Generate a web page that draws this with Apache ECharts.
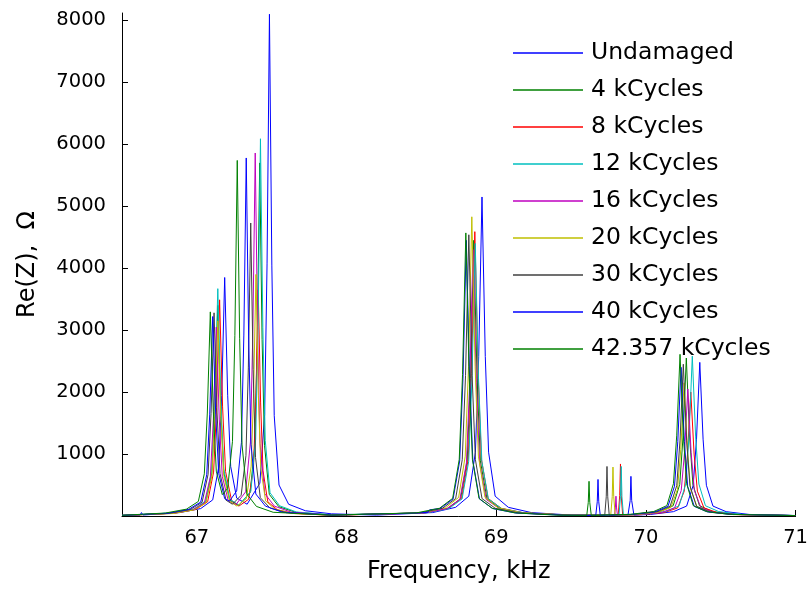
<!DOCTYPE html>
<html>
<head>
<meta charset="utf-8">
<script src="https://cdn.jsdelivr.net/npm/echarts@6/dist/echarts.min.js"></script>
<style>
  html, body { margin: 0; padding: 0; background: #fff; }
  #chart { width: 811px; height: 589px; }
</style>
</head>
<body>
<div id="chart"></div>
<script>
// tick labels
var xTicks = [67, 68, 69, 70, 71];
var yTicks = [1000, 2000, 3000, 4000, 5000, 6000, 7000, 8000];

var seriesNames = ['Undamaged', '4 kCycles', '8 kCycles', '12 kCycles', '16 kCycles',
  '20 kCycles', '30 kCycles', '40 kCycles', '42.357 kCycles'];
var seriesColors = ['#0000ff', '#008000', '#ff0000', '#00bfbf', '#bf00bf',
  '#bfbf00', '#404040', '#0000ff', '#008000'];

// Re(Z) vs frequency (kHz): [freq, ohm]
var undamaged = [
  [66.5, 10], [66.62, 14], [66.63, 55], [66.64, 16], [66.886, 55], [67.026, 120], [67.106, 260],
  [67.146, 790], [67.166, 1945], [67.186, 3850], [67.206, 1950], [67.226, 800], [67.266, 290],
  [67.336, 190], [67.421, 530], [67.453, 1640], [67.469, 4070], [67.485, 8100], [67.501, 4050],
  [67.517, 1620], [67.549, 500], [67.613, 190], [67.725, 85], [67.9, 35], [68.2, 15],
  [68.575, 55], [68.729, 140], [68.817, 320], [68.861, 1030], [68.883, 2575], [68.905, 5150],
  [68.927, 2575], [68.949, 1030], [68.993, 320], [69.081, 140], [69.235, 55], [69.5, 15],
  [69.88, 12], [69.895, 250], [69.9, 640], [69.905, 250], [69.92, 14],
  [70.03, 25], [70.184, 70], [70.272, 160], [70.316, 496], [70.338, 1240], [70.36, 2480],
  [70.382, 1240], [70.404, 496], [70.448, 160], [70.536, 70], [70.69, 25], [71, 8]
];
var kc4 = [
  [66.5, 10], [66.84, 45], [66.98, 105], [67.06, 230], [67.1, 694], [67.12, 1716], [67.14, 3400],
  [67.16, 1722], [67.18, 705], [67.22, 255], [67.28, 170], [67.356, 380], [67.388, 1162],
  [67.404, 2870], [67.42, 5700], [67.436, 2850], [67.452, 1140], [67.484, 350], [67.548, 150],
  [67.66, 60], [67.9, 18],
  [68.52, 50], [68.674, 120], [68.762, 280], [68.806, 890], [68.828, 2225], [68.85, 4450],
  [68.872, 2225], [68.894, 890], [68.938, 280], [69.026, 120], [69.18, 50], [69.5, 12],
  [69.94, 25], [70.094, 70], [70.182, 165], [70.226, 510], [70.248, 1275], [70.27, 2550],
  [70.292, 1275], [70.314, 510], [70.358, 165], [70.446, 70], [70.6, 25], [71, 7]
];
var kc8 = [
  [66.5, 9], [66.852, 45], [66.992, 105], [67.072, 230], [67.112, 708], [67.132, 1756],
  [67.152, 3490], [67.172, 1761], [67.192, 717], [67.232, 250], [67.281, 160], [67.346, 270],
  [67.378, 757], [67.394, 1850], [67.41, 3650], [67.426, 1825], [67.442, 730], [67.474, 230],
  [67.538, 100], [67.65, 40], [67.9, 12],
  [68.527, 50], [68.681, 125], [68.769, 285], [68.813, 918], [68.835, 2295], [68.857, 4590],
  [68.879, 2295], [68.901, 918], [68.945, 285], [69.033, 125], [69.187, 50], [69.5, 12],
  [69.815, 12], [69.825, 330], [69.83, 840], [69.835, 330], [69.845, 12],
  [69.97, 22], [70.124, 56], [70.212, 130], [70.256, 400], [70.278, 1000], [70.3, 2000],
  [70.322, 1000], [70.344, 400], [70.388, 130], [70.476, 56], [70.63, 22], [71, 6]
];
var kc12 = [
  [66.5, 10], [66.84, 50], [66.98, 112], [67.06, 245], [67.1, 749], [67.12, 1852], [67.14, 3670],
  [67.16, 1857], [67.18, 760], [67.22, 270], [67.283, 175], [67.361, 400], [67.393, 1241],
  [67.409, 3066], [67.425, 6090], [67.441, 3045], [67.457, 1218], [67.489, 375], [67.553, 165],
  [67.665, 65], [67.9, 18],
  [68.53, 48], [68.684, 120], [68.772, 275], [68.816, 880], [68.838, 2200], [68.86, 4400],
  [68.882, 2200], [68.904, 880], [68.948, 275], [69.036, 120], [69.19, 48], [69.5, 12],
  [69.82, 12], [69.83, 310], [69.835, 800], [69.84, 310], [69.85, 12],
  [69.98, 26], [70.134, 72], [70.222, 165], [70.266, 516], [70.288, 1290], [70.31, 2580],
  [70.332, 1290], [70.354, 516], [70.398, 165], [70.486, 72], [70.64, 26], [71, 7]
];
var kc16 = [
  [66.5, 9], [66.83, 42], [66.97, 98], [67.05, 210], [67.09, 626], [67.11, 1543], [67.13, 3050],
  [67.15, 1551], [67.17, 641], [67.21, 245], [67.26, 180], [67.326, 390], [67.358, 1195],
  [67.374, 2951], [67.39, 5860], [67.406, 2930], [67.422, 1172], [67.454, 360], [67.518, 160],
  [67.63, 62], [67.9, 15],
  [68.515, 46], [68.669, 118], [68.757, 268], [68.801, 860], [68.823, 2150], [68.845, 4300],
  [68.867, 2150], [68.889, 860], [68.933, 268], [69.021, 118], [69.175, 46], [69.5, 12],
  [69.79, 10], [69.796, 130], [69.8, 320], [69.804, 130], [69.81, 10],
  [69.95, 22], [70.104, 58], [70.192, 132], [70.236, 410], [70.258, 1025], [70.28, 2050],
  [70.302, 1025], [70.324, 410], [70.368, 132], [70.456, 58], [70.61, 22], [71, 6]
];
var kc20 = [
  [66.5, 9], [66.84, 40], [66.98, 98], [67.06, 210], [67.1, 640], [67.12, 1586], [67.14, 3150],
  [67.16, 1593], [67.18, 651], [67.22, 235], [67.268, 160], [67.331, 280], [67.363, 805],
  [67.379, 1973], [67.395, 3900], [67.411, 1950], [67.427, 780], [67.459, 245], [67.523, 108],
  [67.635, 42], [67.9, 12],
  [68.507, 52], [68.661, 132], [68.749, 300], [68.793, 966], [68.815, 2415], [68.837, 4830],
  [68.859, 2415], [68.881, 966], [68.925, 300], [69.013, 132], [69.167, 52], [69.5, 14],
  [69.765, 12], [69.775, 310], [69.78, 790], [69.785, 310], [69.795, 12],
  [69.925, 22], [70.079, 60], [70.167, 138], [70.211, 430], [70.233, 1075], [70.255, 2150],
  [70.277, 1075], [70.299, 430], [70.343, 138], [70.431, 60], [70.585, 22], [71, 6]
];
var kc30 = [
  [66.5, 9], [66.815, 42], [66.955, 104], [67.035, 222], [67.075, 670], [67.095, 1656],
  [67.115, 3280], [67.135, 1664], [67.155, 684], [67.195, 255], [67.238, 190], [67.296, 335],
  [67.328, 975], [67.344, 2391], [67.36, 4730], [67.376, 2365], [67.392, 946], [67.424, 295],
  [67.488, 130], [67.6, 52], [67.9, 12],
  [68.487, 50], [68.641, 125], [68.729, 282], [68.773, 908], [68.795, 2270], [68.817, 4540],
  [68.839, 2270], [68.861, 908], [68.905, 282], [68.993, 125], [69.147, 50], [69.5, 12],
  [69.725, 12], [69.735, 310], [69.74, 800], [69.745, 310], [69.755, 12],
  [69.92, 26], [70.074, 68], [70.162, 158], [70.206, 490], [70.228, 1225], [70.25, 2450],
  [70.272, 1225], [70.294, 490], [70.338, 158], [70.426, 68], [70.58, 26], [71, 7]
];
var kc40 = [
  [66.5, 10], [66.806, 45], [66.946, 108], [67.026, 225], [67.066, 665], [67.086, 1633],
  [67.106, 3220], [67.126, 1645], [67.146, 687], [67.186, 280], [67.218, 240], [67.266, 405],
  [67.298, 1190], [67.314, 2921], [67.33, 5780], [67.346, 2890], [67.362, 1156], [67.394, 355],
  [67.458, 160], [67.57, 62], [67.9, 15],
  [68.47, 48], [68.545, 60], [68.555, 100], [68.565, 70], [68.624, 120], [68.712, 275],
  [68.756, 890], [68.778, 2225], [68.8, 4450], [68.822, 2225], [68.844, 890], [68.888, 275],
  [68.976, 120], [69.13, 48], [69.45, 12],
  [69.665, 10], [69.675, 230], [69.68, 590], [69.685, 230], [69.695, 10],
  [69.905, 26], [70.059, 66], [70.147, 155], [70.191, 480], [70.213, 1200], [70.235, 2400],
  [70.257, 1200], [70.279, 480], [70.323, 155], [70.411, 66], [70.565, 26], [71, 7]
];
var kc42 = [
  [66.5, 11], [66.79, 48], [66.93, 110], [67.01, 235], [67.05, 681], [67.07, 1662], [67.09, 3295],
  [67.11, 1682], [67.13, 724], [67.17, 345], [67.206, 445], [67.238, 1206], [67.254, 2917],
  [67.27, 5740], [67.286, 2870], [67.302, 1148], [67.334, 355], [67.398, 155], [67.51, 60],
  [67.9, 15],
  [68.467, 50], [68.621, 125], [68.709, 285], [68.753, 914], [68.775, 2285], [68.797, 4570],
  [68.819, 2285], [68.841, 914], [68.885, 285], [68.973, 125], [69.127, 50], [69.4, 14],
  [69.605, 10], [69.615, 220], [69.62, 560], [69.625, 220], [69.635, 10],
  [69.898, 27], [70.052, 72], [70.14, 168], [70.184, 522], [70.206, 1305], [70.228, 2610],
  [70.25, 1305], [70.272, 522], [70.316, 168], [70.404, 72], [70.558, 27], [71, 7]
];

var allData = [undamaged, kc4, kc8, kc12, kc16, kc20, kc30, kc40, kc42];

var chart = echarts.init(document.getElementById('chart'));
var font = 'DejaVu Sans';

var series = [];
for (var i = 0; i < allData.length; i++) {
  series.push({
    name: seriesNames[i],
    type: 'line',
    data: allData[i],
    symbol: 'none',
    showSymbol: false,
    lineStyle: { width: 1, color: seriesColors[i] },
    itemStyle: { color: seriesColors[i] },
    emphasis: { disabled: true }
  });
}

var option = {
  backgroundColor: '#ffffff',
  animation: false,
  grid: { left: 122, right: 11, top: 13, bottom: 72 },
  legend: {
    orient: 'vertical',
    left: 508,
    top: 35,
    icon: 'rect',
    itemWidth: 70,
    itemHeight: 1.5,
    itemGap: 11,
    data: seriesNames,
    textStyle: { fontFamily: font, fontSize: 23.5, lineHeight: 26, color: '#000', padding: [0, 0, 0, 3] }
  },
  xAxis: {
    type: 'value',
    min: 66.5,
    max: 71,
    name: 'Frequency, kHz',
    nameLocation: 'middle',
    nameGap: 44,
    nameTextStyle: { fontFamily: font, fontSize: 24, color: '#000' },
    axisLine: { lineStyle: { color: '#000', width: 1 } },
    axisTick: { inside: true, length: 6, customValues: xTicks, lineStyle: { color: '#000' } },
    axisLabel: { customValues: xTicks, fontFamily: font, fontSize: 19.5, color: '#000', margin: 12 },
    splitLine: { show: false }
  },
  yAxis: {
    type: 'value',
    min: 0,
    max: 8120,
    name: 'Re(Z),  Ω',
    nameLocation: 'middle',
    nameGap: 82,
    nameTextStyle: { fontFamily: font, fontSize: 24, color: '#000' },
    axisLine: { show: true, lineStyle: { color: '#000', width: 1 } },
    axisTick: { show: true, inside: true, length: 6, customValues: yTicks, lineStyle: { color: '#000' } },
    axisLabel: {
      customValues: yTicks, fontFamily: font, fontSize: 19.5, color: '#000', margin: 16,
      formatter: function (v) { return String(v); }
    },
    splitLine: { show: false }
  },
  series: series
};

chart.setOption(option);
</script>
</body>
</html>
